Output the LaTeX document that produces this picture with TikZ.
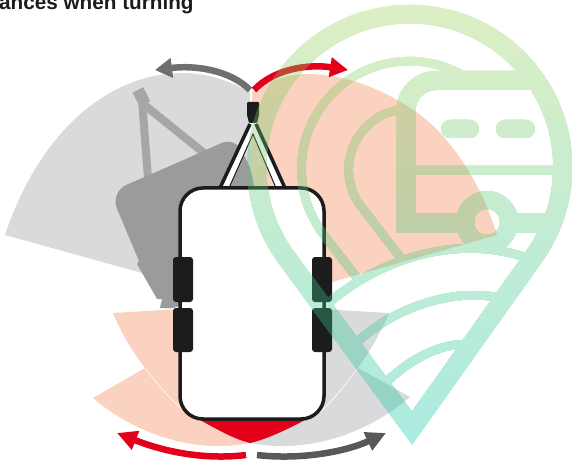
\documentclass[tikz,border=0pt]{standalone}
\usepackage{fontspec}
\setmainfont{Liberation Sans}
\usetikzlibrary{arrows.meta}
\definecolor{turnRed}{HTML}{E3001B}
\definecolor{turnInk}{HTML}{1C1B1D}
\definecolor{turnSalmon}{HTML}{FAD2BF}
\definecolor{turnMist}{HTML}{D9DADC}
\definecolor{turnTrailer}{HTML}{9A9B9D}
\definecolor{turnBar}{HTML}{A5A6A8}
\definecolor{turnArrowUp}{HTML}{6E6F71}
\definecolor{turnArrowDown}{HTML}{58585A}
\definecolor{markTop}{RGB}{155,206,83}
\definecolor{markLow}{RGB}{12,198,170}
\newcommand{\markshape}{%
  \draw[markthick, miter limit=10] (412,428) -- (286,257) arc[start angle=144, end angle=396, radius=153] -- cycle;
  \draw[markthin] (476,84) arc[start angle=-52, end angle=-217, radius=108] -- (357,278);
  \draw[markthin] (397,110) arc[start angle=-102, end angle=-216, radius=61] -- (400,257);
  \draw[markthick] (536,80.5) -- (436,80.5) arc[start angle=-90, end angle=-180, radius=30] -- (406,223) -- (465,223);
  \draw[markthin, line width=9pt] (406,170.5) -- (563,170.5);
  \draw[markthick] (509,223) -- (552,223);
  \draw[line width=18pt] (487,222) circle[radius=22];
  \draw[line width=18pt, line cap=round] (450,129) -- (470,129);
  \draw[line width=18pt, line cap=round] (505,129) -- (526,129);
  \draw[markthin] (322,309) .. controls (365,268) and (450,228) .. (533,260);
  \draw[markthin] (350,349) .. controls (385,312) and (450,285) .. (505,299);
  \draw[markthin] (378,391) .. controls (400,365) and (440,340) .. (472,345);
}
\begin{document}
\begin{tikzpicture}[
  x=1pt, y=1pt, yscale=-1,
  markthick/.style={line width=19pt},
  markthin/.style={line width=8.5pt},
  sweep/.style={line width=6.5pt},
  tyre/.style={fill=turnInk, rounded corners=3pt},
]
\useasboundingbox (0,0) rectangle (572,462);
\node[anchor=base west, inner sep=0pt, font=\fontsize{20.7}{22}\selectfont\bfseries, text=turnInk] (title) at (-1,10) {ances when turning};

\fill[turnMist] (250,92) .. controls (228,80) and (205,73) .. (183,73) .. controls (110,73) and (40,130) .. (5,235) -- (142,273) -- (180,280) -- (253,190) -- cycle;
\fill[turnSalmon] (252,92) .. controls (270,80) and (290,74) .. (307,74) .. controls (365,74) and (420,110) .. (440,133) .. controls (470,165) and (488,205) .. (497,235) -- (332,282) -- (252,190) -- cycle;
\fill[turnSalmon] (180,309) -- (113,313) .. controls (122,335) and (133,352) .. (145,368) -- (93,398) .. controls (130,430) and (190,455) .. (250,443) -- (250,410) -- (190,400) -- cycle;
\fill[turnMist] (320,309) -- (389,313) .. controls (380,335) and (369,352) .. (358,368) -- (410,397) .. controls (372,430) and (312,455) .. (250,443) -- (250,410) -- (310,400) -- cycle;
\draw[white, line width=.6pt] (145,368) .. controls (158,385) and (172,402) .. (187,413);
\draw[white, line width=.6pt] (358,368) .. controls (345,385) and (330,405) .. (314,417);
\fill[turnRed] (187,413) .. controls (210,425) and (230,438) .. (250,443) .. controls (272,438) and (295,425) .. (313,416) -- (290,400) -- (210,400) -- cycle;

\draw[turnBar, line width=8pt] (142,100) -- (148,178);
\draw[turnBar, line width=8pt] (142,103) -- (204,153);
\draw[turnBar, line width=12pt] (138,90) -- (145,104);
\fill[turnTrailer, rounded corners=15pt] (170,166) -- (235,137) -- (254,175) [sharp corners] -- (254,190) -- (200,300) -- (173,308) -- (160,308) -- (162,299) -- (157,299) -- (137,264) -- (139,261) [rounded corners=18pt] -- (110,192) -- cycle;

\fill[white, even odd rule] (220,188) -- (253,118) -- (285,188) -- cycle (229,188) -- (253,134) -- (276,188) -- cycle;
\draw[turnInk, line width=1pt] (229,188) -- (253,134) -- (276,188);
\draw[turnInk, line width=3.5pt] (220,188) -- (250,124);
\draw[turnInk, line width=3.5pt] (285,188) -- (256,124);
\fill[turnInk, rounded corners=1pt] (247,102) -- (259,102) -- (259,115) -- (257,123) -- (249,123) -- (247,115) -- cycle;

\draw[turnInk, line width=3.5pt, fill=white, rounded corners=23pt] (180,188) rectangle (324,419);
\fill[tyre] (173,257) rectangle (193,302);
\fill[tyre] (173,308) rectangle (193,352);
\fill[tyre] (312,257) rectangle (332,302);
\fill[tyre] (312,308) rectangle (332,352);

\draw[sweep, turnArrowUp, -{Triangle[length=17pt,width=19pt]}] (250,90) .. controls (230,70) and (195,65) .. (155,70);
\draw[sweep, turnRed, -{Triangle[length=18pt,width=19pt]}] (254,90) .. controls (275,68) and (310,64) .. (348,70);
\draw[sweep, turnRed, -{Triangle[length=20pt,width=19pt]}] (246,455) .. controls (205,460) and (165,452) .. (117,433);
\draw[sweep, turnArrowDown, -{Triangle[length=20pt,width=19pt]}] (257,455) .. controls (300,460) and (345,452) .. (386,433);

\begin{scope}[transparency group, opacity=.35]
  \foreach \bandtop in {0,12,...,456} {
    \pgfmathsetmacro{\mixed}{100*(1-min(1,\bandtop/440))}
    \colorlet{markNow}{markTop!\mixed!markLow}
    \begin{scope}[color=markNow]
      \clip (200,\bandtop) rectangle (580,470);
      \markshape
    \end{scope}
  }
\end{scope}
\end{tikzpicture}
\end{document}
